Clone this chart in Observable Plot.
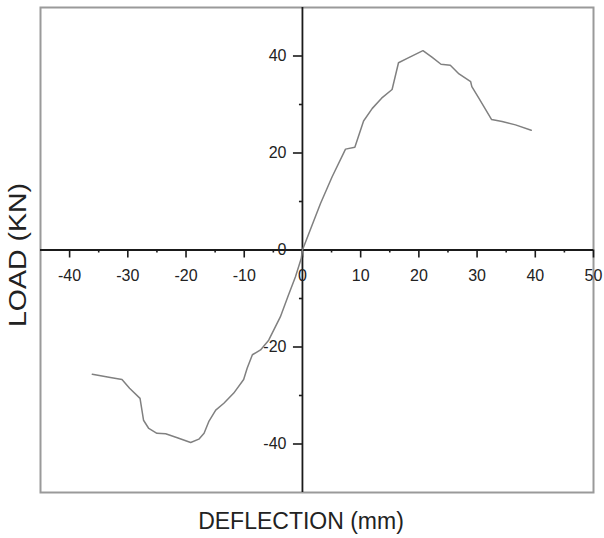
<!DOCTYPE html>
<html>
<head>
<meta charset="utf-8">
<script src="https://cdn.jsdelivr.net/npm/d3@7"></script>
<script src="https://cdn.jsdelivr.net/npm/@observablehq/plot@0.6"></script>
<style>
  html, body { margin: 0; padding: 0; background: #fff; }
  #chart svg { display: block; }
</style>
</head>
<body>
<div id="chart"></div>
<script>
// Deflection (mm) and load (kN)
const deflection = [-36.1, -33.0, -31.0, -29.7, -27.9, -27.3, -26.4, -25.0, -23.5, -21.5, -19.2, -17.8, -16.9, -16.1, -14.9, -13.5, -11.8, -10.1, -9.5, -8.6, -7.2, -5.8, -3.8, -2.4, -1.2, -0.2, 0.0,
  3.1, 5.1, 7.4, 9.0, 10.5, 12.0, 13.6, 15.4, 16.5, 18.0, 20.7, 22.3, 23.8, 25.4, 26.9, 28.9, 29.1, 30.3, 32.5, 34.3, 36.6, 39.3];
const load = [-25.6, -26.3, -26.7, -28.5, -30.6, -35.1, -36.8, -37.8, -37.9, -38.7, -39.7, -39.0, -37.8, -35.4, -33.0, -31.6, -29.5, -26.7, -24.4, -21.6, -20.6, -18.6, -13.8, -9.3, -5.5, -1.7, 0.0,
  9.6, 15.1, 20.8, 21.2, 26.6, 29.2, 31.3, 33.1, 38.6, 39.5, 41.1, 39.7, 38.3, 38.1, 36.3, 34.7, 33.7, 31.3, 26.9, 26.5, 25.8, 24.7];

const xMajorTicks = [-40, -30, -20, -10, 0, 10, 20, 30, 40, 50];
const xMinorTicks = [-35, -25, -15, -5, 5, 15, 25, 35, 45];
const yMajorTicks = [-40, -20, 0, 20, 40];
const yMinorTicks = [-30, -10, 10, 30];
const xTitle = "DEFLECTION (mm)";
const yTitle = "LOAD (KN)";

const points = deflection.map((d, i) => ({x: d, y: load[i]}));
const axisColor = "#1a1a1a";
const textColor = "#222";

const chart = Plot.plot({
  width: 604,
  height: 538,
  marginLeft: 40,
  marginRight: 11,
  marginTop: 7,
  marginBottom: 46,
  style: {fontFamily: "'Liberation Sans', Arial, sans-serif", background: "#fff"},
  x: {domain: [-45, 50], axis: null},
  y: {domain: [-50, 50], axis: null},
  marks: [
    Plot.frame({stroke: "#9a9a9a", strokeWidth: 2}),
    // center axes
    Plot.ruleY([0], {stroke: axisColor, strokeWidth: 1.8}),
    Plot.ruleX([0], {stroke: axisColor, strokeWidth: 1.8}),
    // x ticks (downward)
    Plot.ruleX(xMajorTicks, {x: d => d, y1: 0, y2: 0, insetBottom: -8, stroke: axisColor, strokeWidth: 1.6}),
    Plot.ruleX(xMinorTicks, {x: d => d, y1: 0, y2: 0, insetBottom: -3, stroke: axisColor, strokeWidth: 1.6}),
    // y ticks (leftward)
    Plot.ruleY(yMajorTicks, {y: d => d, x1: 0, x2: 0, insetLeft: -9, stroke: axisColor, strokeWidth: 1.6}),
    Plot.ruleY(yMinorTicks, {y: d => d, x1: 0, x2: 0, insetLeft: -3, stroke: axisColor, strokeWidth: 1.6}),
    // tick labels
    Plot.text(xMajorTicks, {x: d => d, y: 0, text: d => String(d), dy: 26, fontSize: 16, fill: textColor, lineAnchor: "middle"}),
    Plot.text(yMajorTicks, {x: 0, y: d => d, text: d => String(d), dx: -16, textAnchor: "end", fontSize: 16, fill: textColor, lineAnchor: "middle"}),
    // curve
    Plot.line(points, {x: "x", y: "y", stroke: "#808080", strokeWidth: 1.5, curve: "linear"}),
    // axis titles
    Plot.text([xTitle], {frameAnchor: "bottom", textAnchor: "middle", dx: -16, dy: 36, fontSize: 23, fill: textColor, lineAnchor: "bottom"}),
    Plot.text([yTitle], {frameAnchor: "left", textAnchor: "middle", dx: -22, dy: 5, rotate: -90, fontSize: 23, fill: textColor, lineAnchor: "middle", className: "ytitle"})
  ]
});

d3.select(chart).selectAll(".ytitle text")
  .attr("textLength", 144)
  .attr("lengthAdjust", "spacingAndGlyphs");
document.getElementById("chart").appendChild(chart);
</script>
</body>
</html>
